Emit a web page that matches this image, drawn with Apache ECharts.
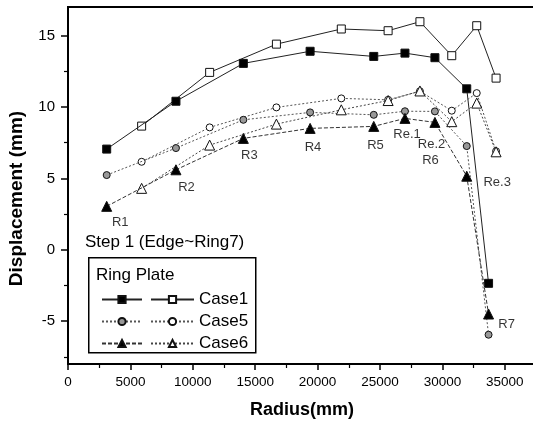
<!DOCTYPE html>
<html>
<head>
<meta charset="utf-8">
<script src="https://cdn.jsdelivr.net/npm/echarts@6/dist/echarts.min.js"></script>
<style>
html,body{margin:0;padding:0;background:#fff;}
#chart{width:533px;height:422px;}
</style>
</head>
<body>
<div id="chart"></div>
<script>
// ---- data ----
const radiusRing = [3100, 8650, 14050, 19400, 24500, 27000, 29400, 31950, 33700];
const radiusRe   = [5900, 11350, 16700, 21900, 25650, 28200, 30750, 32750, 34300];

const case1Ring = [7.05, 10.4, 13.05, 13.9, 13.54, 13.77, 13.45, 11.27, -2.35];
const case1Re   = [8.66, 12.42, 14.4, 15.46, 15.34, 15.97, 13.59, 15.69, 12.02];
const case5Ring = [5.23, 7.12, 9.1, 9.62, 9.45, 9.7, 9.69, 7.26, -5.95];
const case5Re   = [6.16, 8.57, 9.97, 10.6, 10.5, 11.1, 9.74, 10.97, 6.9];
const case6Ring = [3.04, 5.6, 7.8, 8.5, 8.64, 9.2, 8.92, 5.15, -4.5];
const case6Re   = [4.3, 7.33, 8.8, 9.8, 10.45, 11.12, 8.97, 10.27, 6.86];

const xMajorTicks = [0, 5000, 10000, 15000, 20000, 25000, 30000, 35000];
const xMinorTicks = [2500, 7500, 12500, 17500, 22500, 27500, 32500, 37500];
const yMajorTicks = [-5, 0, 5, 10, 15];
const yMinorTicks = [-7.5, -2.5, 2.5, 7.5, 12.5];

const annoText = ['R1', 'R2', 'R3', 'R4', 'R5', 'Re.1', 'Re.2', 'R6', 'Re.3', 'R7'];
const annoX    = [4190, 9490, 14530, 19630, 24640, 27170, 29130, 29050, 34390, 35150];
const annoY    = [1.94, 4.4, 6.64, 7.2, 7.34, 8.11, 7.41, 6.29, 4.75, -5.2];

const xName = 'Radius(mm)';
const yName = 'Displacement (mm)';
const stepText = 'Step 1 (Edge~Ring7)';
const legendTitle = 'Ring Plate';

// ---- build ----
const FONT = 'Liberation Sans, Arial, sans-serif';
function pairs(xs, ys){ return xs.map((x,i)=>[x, ys[i]]); }

function mk(name, xs, ys, symbol, size, fill, lineType, lineColor, z){
  return {
    name: name, type: 'line', data: pairs(xs, ys),
    symbol: symbol, symbolSize: size, showAllSymbol: true,
    lineStyle: {color: lineColor, width: 1, type: lineType},
    itemStyle: {color: fill, borderColor: '#111', borderWidth: 1, opacity: 1},
    emphasis: {disabled: true}, animation: false, z: z
  };
}

const series = [
  mk('Case1', radiusRe, case1Re, 'rect', 8, '#fff', 'solid', '#222', 2),
  mk('Case1 ring', radiusRing, case1Ring, 'rect', 8, '#000', 'solid', '#222', 3),
  mk('Case5', radiusRe, case5Re, 'circle', 7, '#fff', [2,2], '#555', 4),
  mk('Case5 ring', radiusRing, case5Ring, 'circle', 7, '#999', [2,2], '#555', 5),
  mk('Case6', radiusRe, case6Re, 'triangle', 10, '#fff', [2,2], '#444', 6),
  mk('Case6 ring', radiusRing, case6Ring, 'triangle', 10, '#000', [4,2], '#333', 7),
  {
    type: 'scatter', silent: true, symbolSize: 0, animation: false, z: 10,
    data: annoText.map((t,i)=>({name: t, value: [annoX[i], annoY[i]]})),
    label: {show: true, position: 'inside', formatter: p => p.name,
      color: '#000', fontSize: 13, fontFamily: FONT}
  }
];

const plain = v => String(v);

const chart = echarts.init(document.getElementById('chart'), null, {renderer: 'canvas'});
chart.setOption({
  backgroundColor: '#fff',
  animation: false,
  grid: {left: 68, top: 7, height: 357, right: -3, containLabel: false, outerBoundsMode: 'none',
    show: true, borderColor: '#000', borderWidth: 2, backgroundColor: 'transparent'},
  xAxis: [{
    type: 'value', min: 0, max: 37500, position: 'bottom',
    name: xName, nameLocation: 'middle', nameGap: 37,
    nameTextStyle: {fontSize: 18, fontWeight: 'bold', fontFamily: FONT, color: '#000'},
    axisLine: {show: true, onZero: false, lineStyle: {color: '#000', width: 2}},
    axisTick: {show: true, inside: false, length: 6, customValues: xMajorTicks, lineStyle: {color: '#000', width: 1.5}},
    axisLabel: {customValues: xMajorTicks, formatter: plain, margin: 11, fontSize: 13.5, fontFamily: FONT, color: '#000'},
    splitLine: {show: false}
  }, {
    type: 'value', min: 0, max: 37500, position: 'bottom', offset: 0,
    axisLine: {show: false, onZero: false},
    axisTick: {show: true, inside: false, length: 4, customValues: xMinorTicks, lineStyle: {color: '#000', width: 1.2}},
    axisLabel: {show: false}, splitLine: {show: false}
  }],
  yAxis: [{
    type: 'value', min: -8, max: 17, position: 'left',
    name: yName, nameLocation: 'middle', nameGap: 42,
    nameTextStyle: {fontSize: 19, fontWeight: 'bold', fontFamily: FONT, color: '#000', padding: [0, 26, 0, 0]},
    axisLine: {show: true, onZero: false, lineStyle: {color: '#000', width: 2}},
    axisTick: {show: true, inside: false, length: 7, customValues: yMajorTicks, lineStyle: {color: '#000', width: 1.5}},
    axisLabel: {customValues: yMajorTicks, formatter: plain, margin: 13, fontSize: 15, fontFamily: FONT, color: '#000'},
    splitLine: {show: false}
  }, {
    type: 'value', min: -8, max: 17, position: 'left', offset: 0,
    axisLine: {show: false, onZero: false},
    axisTick: {show: true, inside: false, length: 4, customValues: yMinorTicks, lineStyle: {color: '#000', width: 1.2}},
    axisLabel: {show: false}, splitLine: {show: false}
  }],
  legend: [{
    data: ['Case1 ring', 'Case5 ring', 'Case6 ring'],
    orient: 'vertical', left: 96, top: 286, itemWidth: 40, itemHeight: 9, itemGap: 5,
    formatter: () => ' ', selectedMode: false,
    textStyle: {fontSize: 17, fontFamily: FONT, color: '#000'}
  }, {
    data: ['Case1', 'Case5', 'Case6'],
    orient: 'vertical', left: 145, top: 286, itemWidth: 43, itemHeight: 9, itemGap: 5,
    selectedMode: false,
    textStyle: {fontSize: 17, fontFamily: FONT, color: '#000'}
  }],
  graphic: [{
    type: 'rect', left: 88, top: 257, z: 0,
    shape: {width: 167, height: 95},
    style: {fill: 'transparent', stroke: '#000', lineWidth: 1.5}
  }, {
    type: 'text', left: 96, top: 267,
    style: {text: legendTitle, fontSize: 17, fontFamily: FONT, fill: '#000'}
  }, {
    type: 'text', left: 85, top: 234,
    style: {text: stepText, fontSize: 17, fontFamily: FONT, fill: '#000'}
  }],
  series: series
});
</script>
</body>
</html>
